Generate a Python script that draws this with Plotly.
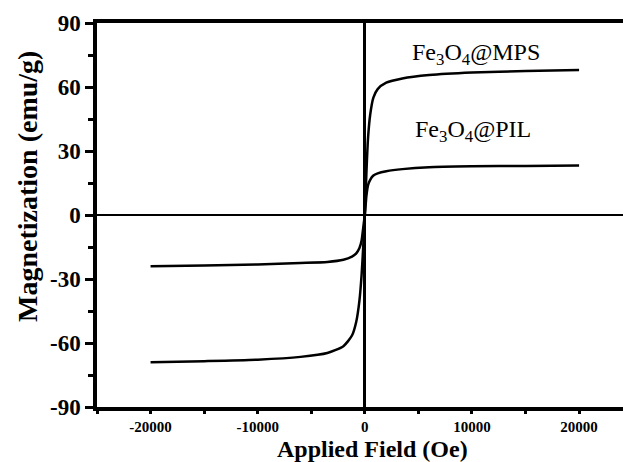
import plotly.graph_objects as go

field = [-20000, -15000, -10000, -6000, -3500, -2000, -1200, -800, -500, -300, -150, 0,
         150, 300, 500, 800, 1200, 2000, 3500, 6000, 10000, 15000, 20000]
m_mps = [-69, -68.5, -67.8, -66.5, -64.7, -61.5, -56.5, -50, -40, -28, -15, 0,
         20, 36, 47, 55, 59, 62, 64, 65.6, 66.8, 67.5, 68]
m_pil = [-24, -23.7, -23.2, -22.5, -22, -21, -19.5, -18, -15.5, -12, -6, 0,
         9, 14, 16.5, 18.5, 19.5, 20.5, 21.5, 22.4, 22.8, 23, 23.2]

x_ticks = [-20000, -10000, 0, 10000, 20000]
y_ticks = [-90, -60, -30, 0, 30, 60, 90]

serif = "Liberation Serif, Times New Roman, serif"

fig = go.Figure()
for ys in (m_mps, m_pil):
    fig.add_trace(go.Scatter(x=field, y=ys, mode="lines",
                             line=dict(color="black", width=2.5, shape="spline", smoothing=0.6),
                             showlegend=False, hoverinfo="skip"))

fig.add_annotation(x=10360, y=75.5, text="Fe<sub>3</sub>O<sub>4</sub>@MPS", showarrow=False,
                   xanchor="center", yanchor="middle",
                   font=dict(family=serif, size=24, color="black"))
fig.add_annotation(x=10080, y=39.4, text="Fe<sub>3</sub>O<sub>4</sub>@PIL", showarrow=False,
                   xanchor="center", yanchor="middle",
                   font=dict(family=serif, size=24, color="black"))

# axis titles
fig.add_annotation(xref="paper", yref="paper", x=(372 - 97) / 526, y=(407 - 449) / 384,
                   xanchor="center", yanchor="middle",
                   text="<b>Applied Field (Oe)</b>", showarrow=False,
                   font=dict(family=serif, size=24, color="black"))
fig.add_annotation(xref="paper", yref="paper", x=(27 - 97) / 526, y=(407 - 187) / 384,
                   xanchor="center", yanchor="middle",
                   text="<b>Magnetization (emu/g)</b>", showarrow=False, textangle=-90,
                   font=dict(family=serif, size=28, color="black"))

fig.update_xaxes(range=[-25000, 24100], showline=True, linecolor="black", linewidth=3.5,
                 mirror=True, ticks="outside", ticklen=3, tickwidth=3, tickcolor="black",
                 tickvals=x_ticks, ticktext=[f"<b>{v}</b>" for v in x_ticks],
                 tickfont=dict(family=serif, size=15, color="black"),
                 minor=dict(dtick=5000, tick0=0, ticks="outside", ticklen=3, tickwidth=3,
                            tickcolor="black", showgrid=False),
                 showgrid=False, zeroline=True, zerolinecolor="black", zerolinewidth=2.5)
fig.update_yaxes(range=[-90, 90], showline=True, linecolor="black", linewidth=3.5,
                 ticks="outside", ticklen=8, tickwidth=3, tickcolor="black",
                 tickvals=y_ticks, ticktext=[f"<b>{v}</b>" for v in y_ticks],
                 tickfont=dict(family=serif, size=23, color="black"),
                 minor=dict(dtick=15, tick0=0, ticks="outside", ticklen=5, tickwidth=3,
                            tickcolor="black", showgrid=False),
                 showgrid=False, zeroline=True, zerolinecolor="black", zerolinewidth=2)

fig.update_layout(width=623, height=462, margin=dict(l=97, r=0, t=23, b=55),
                  paper_bgcolor="white", plot_bgcolor="white")

fig.write_html("out.html")
